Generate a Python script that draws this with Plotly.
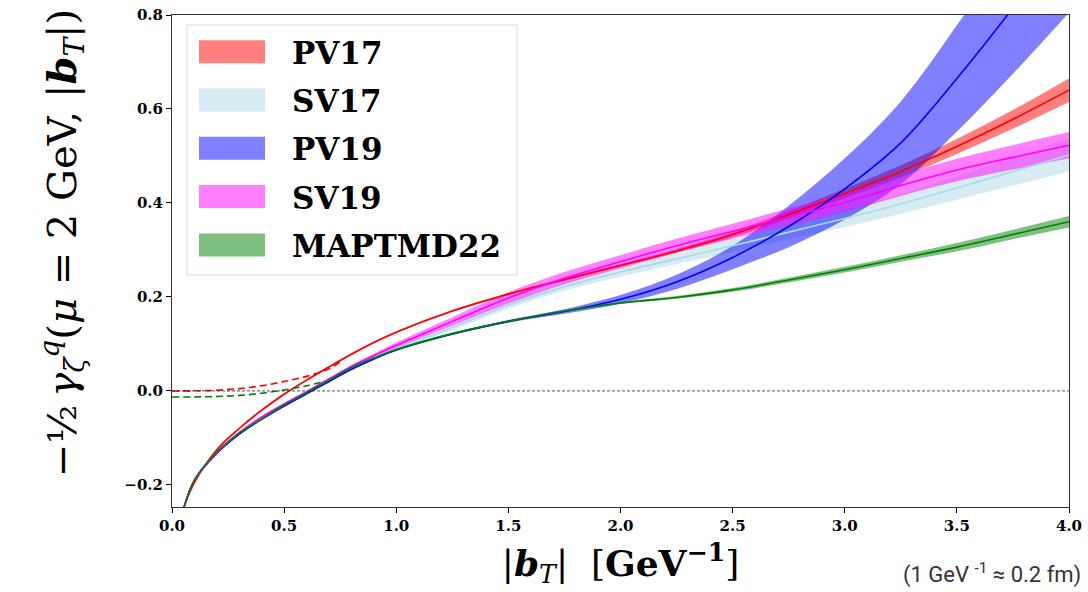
import plotly.graph_objects as go

# ---------------- data ----------------
b_T = [0.04, 0.1, 0.2, 0.3, 0.4, 0.5, 0.6, 0.7, 0.8, 0.9, 1.0, 1.25, 1.5, 1.75,
       2.0, 2.25, 2.5, 2.75, 3.0, 3.25, 3.5, 3.75, 4.0]

pv17 = [-0.265, -0.195, -0.125, -0.080, -0.041, -0.007, 0.023, 0.051, 0.078, 0.103,
        0.125, 0.170, 0.206, 0.237, 0.267, 0.298, 0.333, 0.375, 0.420, 0.467, 0.520,
        0.578, 0.640]
pv17_err = [0.002, 0.002, 0.002, 0.002, 0.002, 0.002, 0.002, 0.002, 0.002, 0.002,
            0.002, 0.002, 0.002, 0.003, 0.003, 0.004, 0.006, 0.008, 0.010, 0.013,
            0.016, 0.020, 0.025]

sv17 = [-0.270, -0.190, -0.132, -0.090, -0.058, -0.030, -0.004, 0.023, 0.049, 0.071,
        0.090, 0.135, 0.183, 0.222, 0.253, 0.281, 0.309, 0.338, 0.367, 0.398, 0.432,
        0.467, 0.502]
sv17_err = [0.003, 0.003, 0.003, 0.003, 0.003, 0.003, 0.003, 0.003, 0.003, 0.003,
            0.004, 0.006, 0.008, 0.009, 0.010, 0.011, 0.013, 0.015, 0.018, 0.021,
            0.025, 0.030, 0.035]

pv19 = [-0.270, -0.190, -0.133, -0.092, -0.060, -0.032, -0.006, 0.020, 0.046, 0.068,
        0.087, 0.121, 0.148, 0.169, 0.195, 0.232, 0.284, 0.350, 0.430, 0.528, 0.665,
        0.815, 0.975]
pv19_err = [0.002, 0.002, 0.002, 0.002, 0.002, 0.002, 0.002, 0.002, 0.002, 0.002,
            0.002, 0.002, 0.003, 0.005, 0.009, 0.015, 0.025, 0.044, 0.065, 0.088,
            0.113, 0.140, 0.170]

sv19 = [-0.270, -0.190, -0.132, -0.089, -0.056, -0.028, -0.002, 0.025, 0.052, 0.075,
        0.097, 0.148, 0.198, 0.240, 0.275, 0.309, 0.340, 0.370, 0.401, 0.437, 0.470,
        0.497, 0.523]
sv19_err = [0.003, 0.003, 0.003, 0.003, 0.003, 0.003, 0.003, 0.003, 0.003, 0.004,
            0.006, 0.009, 0.012, 0.013, 0.014, 0.015, 0.016, 0.018, 0.020, 0.022,
            0.024, 0.026, 0.028]

maptmd22 = [-0.270, -0.190, -0.130, -0.090, -0.060, -0.030, -0.004, 0.023, 0.050, 0.070,
            0.088, 0.122, 0.148, 0.170, 0.187, 0.199, 0.215, 0.236, 0.258, 0.282, 0.306,
            0.333, 0.360]
maptmd22_err = [0.002, 0.002, 0.002, 0.002, 0.002, 0.002, 0.002, 0.002, 0.002, 0.002,
                0.002, 0.002, 0.002, 0.002, 0.002, 0.003, 0.004, 0.005, 0.006, 0.007,
                0.009, 0.010, 0.012]

# dashed small-b curves
pv17_dash_b = [0.0, 0.1, 0.2, 0.3, 0.4, 0.5, 0.6, 0.7, 0.75]
pv17_dash = [0.0, 0.0003, 0.0015, 0.005, 0.011, 0.020, 0.031, 0.047, 0.062]
mapt_dash_b = [0.0, 0.1, 0.2, 0.3, 0.4, 0.5, 0.6, 0.68]
mapt_dash = [-0.013, -0.0128, -0.0118, -0.0095, -0.005, 0.002, 0.011, 0.020]

labels = ["PV17", "SV17", "PV19", "SV19", "MAPTMD22"]
line_colors = ["red", "lightblue", "blue", "magenta", "green"]
band_colors = ["rgba(255,0,0,0.5)", "rgba(173,216,230,0.5)", "rgba(0,0,255,0.5)",
               "rgba(255,0,255,0.5)", "rgba(0,128,0,0.5)"]
legend_patch = ["#ff7f7f", "#d6ebf2", "#7f7fff", "#ff7fff", "#7fbf7f"]

x_ticks = [0.0, 0.5, 1.0, 1.5, 2.0, 2.5, 3.0, 3.5, 4.0]
y_ticks = [-0.2, 0.0, 0.2, 0.4, 0.6, 0.8]

centrals = [pv17, sv17, pv19, sv19, maptmd22]
errors = [pv17_err, sv17_err, pv19_err, sv19_err, maptmd22_err]

# ---------------- figure ----------------
W, H = 1088, 592
L, R, T, B = 172, 19, 15, 85

fig = go.Figure()

# uncertainty bands: lower edge, then upper edge filled down to it
for c, e, col, lab in zip(centrals, errors, band_colors, labels):
    up = [v + d for v, d in zip(c, e)]
    lo = [v - d for v, d in zip(c, e)]
    fig.add_trace(go.Scatter(x=b_T, y=lo, mode="lines",
                             line=dict(width=0, shape="spline", color=col),
                             hoverinfo="skip", showlegend=False, name=lab + " low"))
    fig.add_trace(go.Scatter(x=b_T, y=up, mode="lines", fill="tonexty", fillcolor=col,
                             line=dict(width=0, shape="spline", color=col),
                             hoverinfo="skip", showlegend=False, name=lab + " band"))

for c, col, lab in zip(centrals, line_colors, labels):
    fig.add_trace(go.Scatter(x=b_T, y=c, mode="lines",
                             line=dict(color=col, width=1.6, shape="spline"),
                             showlegend=False, name=lab))

fig.add_trace(go.Scatter(x=pv17_dash_b, y=pv17_dash, mode="lines",
                         line=dict(color="red", width=1.6, dash="7px,4px", shape="spline"),
                         showlegend=False))
fig.add_trace(go.Scatter(x=mapt_dash_b, y=mapt_dash, mode="lines",
                         line=dict(color="green", width=1.6, dash="7px,4px", shape="spline"),
                         showlegend=False))

tick_font = dict(family="DejaVu Serif", size=15, color="black", weight="bold")

fig.update_layout(
    width=W, height=H,
    margin=dict(l=L, r=R, t=T, b=B, pad=0, autoexpand=False),
    paper_bgcolor="white", plot_bgcolor="white",
    showlegend=False,
    xaxis=dict(range=[0, 4], tickvals=x_ticks, ticktext=[f"{v:.1f}" for v in x_ticks],
               ticks="outside", ticklen=5, tickcolor="black", tickfont=tick_font,
               showline=True, linecolor="#333", linewidth=1, mirror=True,
               showgrid=False, zeroline=False, automargin=False,
               title=dict(text="|<b><i>b</i></b><sub><i>T</i></sub>|\u00a0\u00a0[<b>GeV</b><sup><b>\u22121</b></sup>]",
                          font=dict(family="DejaVu Serif", size=36, color="black"),
                          standoff=16)),
    yaxis=dict(range=[-0.247, 0.8], tickvals=y_ticks,
               ticktext=["\u22120.2", "0.0", "0.2", "0.4", "0.6", "0.8"],
               ticks="outside", ticklen=5, tickcolor="black", tickfont=tick_font,
               showline=True, linecolor="#333", linewidth=1, mirror=True,
               showgrid=False, zeroline=False, automargin=False),
)

# zero reference line
fig.add_shape(type="line", xref="x domain", yref="y", x0=0, x1=1, y0=0, y1=0,
              line=dict(color="#222", width=0.8, dash="3px,2px"))

# ---------------- helpers for placing in page pixels ----------------
pw, ph = W - L - R, H - T - B
def px(xp):
    return (xp - L) / pw
def py(yp):
    return (H - B - yp) / ph

# y-axis title (as rotated annotation so it can sit where the reference has it)
fig.add_annotation(xref="paper", yref="paper", x=px(62), y=py(243),
                   text="\u2212\u00bd\u2009<i>\u03b3</i><sub><i>\u03b6</i></sub><sup><i>q</i></sup>(<i>\u03bc</i> = 2 GeV, |<b><i>b</i></b><sub><i>T</i></sub>|)",
                   textangle=-90, showarrow=False, xanchor="center", yanchor="middle",
                   font=dict(family="DejaVu Serif", size=40, color="black"))

# ---------------- manual legend (matplotlib-like patches) ----------------
fig.add_shape(type="rect", xref="paper", yref="paper",
              x0=px(187), x1=px(517), y0=py(275), y1=py(25),
              line=dict(color="#d9d9d9", width=1), fillcolor="rgba(255,255,255,0.85)",
              layer="above")
row0, step = 51.7, 48.3
for i, (lab, pc) in enumerate(zip(labels, legend_patch)):
    yc = row0 + i * step
    fig.add_shape(type="rect", xref="paper", yref="paper",
                  x0=px(199), x1=px(265), y0=py(yc + 11.5), y1=py(yc - 11.5),
                  line=dict(width=0), fillcolor=pc, layer="above")
    fig.add_annotation(xref="paper", yref="paper", x=px(290), y=py(yc + 1),
                       text=f"<b>{lab}</b>", showarrow=False, xanchor="left",
                       yanchor="middle",
                       font=dict(family="DejaVu Serif", size=31, color="black"))

# unit note bottom-right
fig.add_annotation(xref="paper", yref="paper", x=px(1083), y=py(573),
                   text="(1 GeV <sup>-1</sup> \u2248 0.2 fm)", showarrow=False,
                   xanchor="right", yanchor="middle",
                   font=dict(family="Roboto", size=22, color="#333"))

fig.write_html("out.html", config={"displayModeBar": False},
               post_script="document.body.style.margin='0px';document.body.style.padding='0px';")
